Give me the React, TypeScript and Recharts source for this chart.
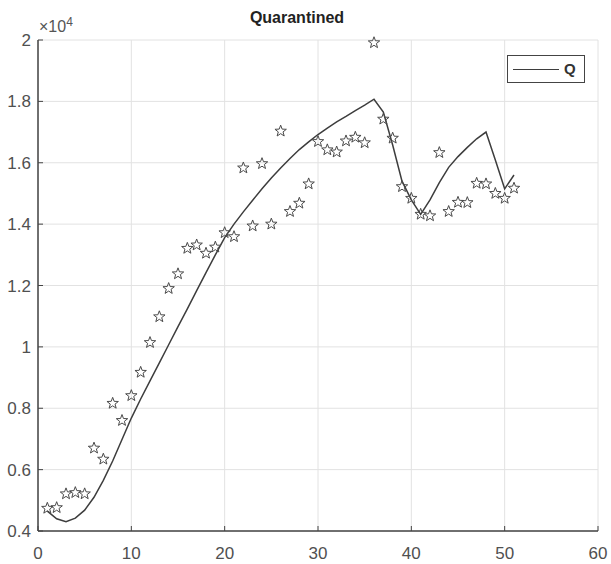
import React from 'react';
import {
  ComposedChart,
  Line,
  Scatter,
  XAxis,
  YAxis,
  CartesianGrid,
  Legend,
} from 'recharts';

// Day index of each observation
const days = [
  1, 2, 3, 4, 5, 6, 7, 8, 9, 10,
  11, 12, 13, 14, 15, 16, 17, 18, 19, 20,
  21, 22, 23, 24, 25, 26, 27, 28, 29, 30,
  31, 32, 33, 34, 35, 36, 37, 38, 39, 40,
  41, 42, 43, 44, 45, 46, 47, 48, 49, 50,
  51,
];

// Reported quarantined cases (x 10^4)
const observed = [
  0.474, 0.476, 0.521, 0.525, 0.521, 0.670, 0.634, 0.816, 0.760, 0.841,
  0.917, 1.014, 1.098, 1.190, 1.238, 1.321, 1.332, 1.305, 1.325, 1.372,
  1.359, 1.583, 1.394, 1.597, 1.400, 1.703, 1.441, 1.468, 1.531, 1.669,
  1.642, 1.635, 1.671, 1.683, 1.665, 1.991, 1.742, 1.680, 1.522, 1.484,
  1.432, 1.427, 1.633, 1.441, 1.471, 1.470, 1.533, 1.531, 1.500, 1.484,
  1.517,
];

// Fitted model curve Q (x 10^4)
const modelQ = [
  0.465, 0.440, 0.430, 0.442, 0.468, 0.510, 0.565, 0.628, 0.698, 0.768,
  0.830, 0.889, 0.948, 1.007, 1.066, 1.124, 1.183, 1.242, 1.300, 1.356,
  1.400, 1.440, 1.478, 1.515, 1.550, 1.583, 1.614, 1.643, 1.668, 1.692,
  1.713, 1.733, 1.751, 1.770, 1.788, 1.807, 1.765, 1.658, 1.540, 1.479,
  1.432, 1.479, 1.535, 1.585, 1.620, 1.650, 1.678, 1.700, 1.609, 1.515,
  1.560,
];

const xTicks = [0, 10, 20, 30, 40, 50, 60];
const yTicks = [0.4, 0.6, 0.8, 1, 1.2, 1.4, 1.6, 1.8, 2];

const data = days.map((d, i) => ({ day: d, observed: observed[i], q: modelQ[i] }));

const INK = '#444444';
const LABEL = '#505050';
const FONT = '"Liberation Sans", Arial, Helvetica, sans-serif';

// Hollow five-pointed star marker
const StarMarker = (props: any) => {
  const { cx, cy } = props;
  if (cx == null || cy == null) return null;
  const outer = 6;
  const inner = 2.5;
  const pts: string[] = [];
  for (let k = 0; k < 10; k++) {
    const r = k % 2 === 0 ? outer : inner;
    const a = -Math.PI / 2 + (k * Math.PI) / 5;
    pts.push(`${(cx + r * Math.cos(a)).toFixed(2)},${(cy + r * Math.sin(a)).toFixed(2)}`);
  }
  return <polygon points={pts.join(' ')} fill="none" stroke="#4a4a4a" strokeWidth={1} />;
};

const LegendBox = () => (
  <div
    style={{
      boxSizing: 'border-box',
      width: 78,
      height: 28,
      border: `1.5px solid ${INK}`,
      background: '#ffffff',
      position: 'relative',
      fontFamily: FONT,
    }}
  >
    <div
      style={{
        position: 'absolute',
        left: 5,
        top: 13,
        width: 46,
        height: 0,
        borderTop: '1.5px solid #3d3d3d',
      }}
    />
    <div
      style={{
        position: 'absolute',
        left: 56,
        top: 4,
        fontSize: 15,
        fontWeight: 'bold',
        color: '#333',
        lineHeight: '18px',
      }}
    >
      Q
    </div>
  </div>
);

const tickStyle = { fill: LABEL, fontSize: 17, fontFamily: FONT };
const axisStyle = { stroke: INK, strokeWidth: 1.5 };
const tickLineStyle = { stroke: INK, strokeWidth: 1 };

export default function App() {
  return (
    <div style={{ position: 'absolute', left: 0, top: 0, width: 611, height: 564, background: '#fff' }}>
      <div
        style={{
          position: 'absolute',
          left: 0,
          width: 594,
          top: 9,
          textAlign: 'center',
          fontFamily: FONT,
          fontWeight: 'bold',
          fontSize: 16,
          lineHeight: '18px',
          color: '#222',
        }}
      >
        Quarantined
      </div>
      <div
        style={{
          position: 'absolute',
          left: 39,
          top: 18,
          fontFamily: FONT,
          fontSize: 16,
          lineHeight: '18px',
          color: '#555',
          whiteSpace: 'nowrap',
        }}
      >
        ×10<span style={{ fontSize: 12, position: 'relative', top: -6 }}>4</span>
      </div>
      <ComposedChart
        width={611}
        height={564}
        data={data}
        margin={{ top: 40, right: 13, bottom: 0, left: 0 }}
        style={{ position: 'absolute', left: 0, top: 0 }}
      >
        <CartesianGrid stroke="#e2e2e2" strokeWidth={1} />
        <XAxis
          dataKey="day"
          type="number"
          domain={[0, 60]}
          ticks={xTicks}
          interval={0}
          height={33}
          tickSize={-5}
          tickMargin={21}
          axisLine={axisStyle}
          tickLine={tickLineStyle}
          tick={tickStyle}
        />
        <XAxis
          xAxisId="top"
          orientation="top"
          type="number"
          domain={[0, 60]}
          ticks={xTicks}
          interval={0}
          height={0}
          tickSize={-5}
          tickFormatter={() => ''}
          axisLine={axisStyle}
          tickLine={tickLineStyle}
        />
        <YAxis
          type="number"
          domain={[0.4, 2]}
          ticks={yTicks}
          interval={0}
          width={38}
          tickSize={-5}
          tickMargin={12}
          tickFormatter={(v: number) => String(v)}
          axisLine={axisStyle}
          tickLine={tickLineStyle}
          tick={tickStyle}
        />
        <YAxis
          yAxisId="right"
          orientation="right"
          type="number"
          domain={[0.4, 2]}
          ticks={yTicks}
          interval={0}
          width={0}
          tickSize={-5}
          tickFormatter={() => ''}
          axisLine={axisStyle}
          tickLine={tickLineStyle}
        />
        <Scatter
          name="data"
          dataKey="observed"
          shape={StarMarker}
          legendType="none"
          isAnimationActive={false}
        />
        <Line
          name="Q"
          dataKey="q"
          type="linear"
          stroke="#3d3d3d"
          strokeWidth={1.5}
          dot={false}
          activeDot={false}
          isAnimationActive={false}
        />
        <Legend
          layout="horizontal"
          verticalAlign="middle"
          align="center"
          content={() => <LegendBox />}
          wrapperStyle={{ left: 507, top: 55, width: 78, height: 28 }}
        />
      </ComposedChart>
    </div>
  );
}
